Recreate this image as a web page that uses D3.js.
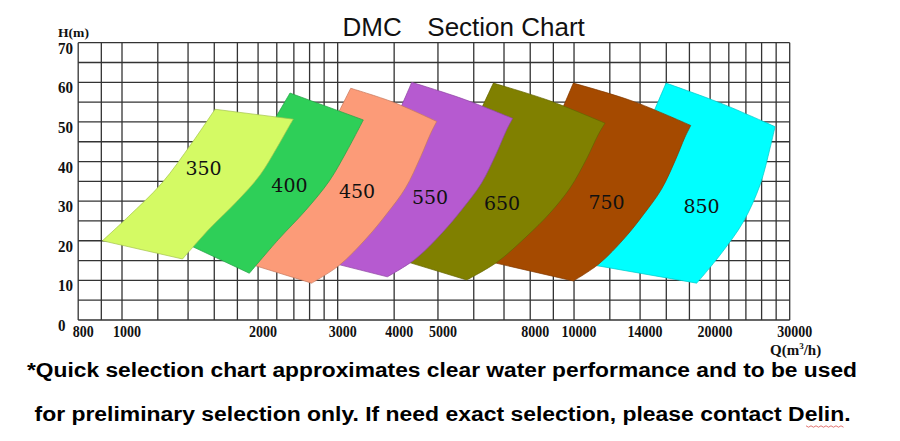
<!DOCTYPE html>
<html>
<head>
<meta charset="utf-8">
<script src="https://cdn.jsdelivr.net/npm/d3@7/dist/d3.min.js"></script>
<style>
  html, body { margin: 0; padding: 0; background: #fff; }
  svg { display: block; }
</style>
</head>
<body>
<svg id="chart" width="900" height="441"></svg>
<script>
// ---------------- DATA ----------------
const categories = ["350", "400", "450", "550", "650", "750", "850"];

// Each outline: [left edge (bottom -> top), top edge (left -> right), right edge (top -> bottom)]
// points are [Q (m3/h), H (m)]; the bottom edge closes from the last right point to the first left point
const outline350 = [
  [[905, 20.0], [1033, 26.1], [1224, 34.5], [1426, 44.6], [1606, 53.2]],
  [[1606, 53.2], [2393, 50.7]],
  [[2393, 50.7], [2353, 49.3], [2199, 43.4], [2020, 36.6], [1794, 29.9], [1566, 23.2], [1361, 15.4]]
];
const outline400 = [
  [[1344, 20.0], [1529, 26.7], [1806, 36.2], [2095, 47.6], [2353, 57.3]],
  [[2353, 57.3], [3419, 50.5]],
  [[3419, 50.5], [3362, 48.9], [3135, 42.4], [2875, 35.1], [2549, 27.7], [2217, 20.3], [1913, 11.8]]
];
const outline450 = [
  [[1824, 14.9], [2077, 22.8], [2455, 34.0], [2853, 47.2], [3206, 58.5]],
  [[3206, 58.5], [3977, 55.0], [4969, 50.1]],
  [[4969, 50.1], [4813, 47.0], [4574, 41.1], [4237, 33.3], [3852, 26.8], [3478, 20.7], [3024, 13.8], [2628, 9.3]]
];
const outline550 = [
  [[2673, 15.5], [2993, 23.5], [3466, 34.9], [3951, 48.5], [4375, 60.0]],
  [[4375, 60.0], [5652, 55.9], [7317, 50.9]],
  [[7317, 50.9], [7087, 47.9], [6735, 42.1], [6238, 34.5], [5668, 28.1], [5117, 22.1], [4446, 15.3], [3863, 10.9]]
];
const outline650 = [
  [[3917, 16.0], [4422, 23.9], [5168, 35.1], [5945, 48.4], [6630, 59.8]],
  [[6630, 59.8], [8804, 55.4], [11711, 49.7]],
  [[11711, 49.7], [11301, 46.7], [10685, 40.9], [9798, 33.3], [8849, 27.0], [7871, 21.2], [6756, 14.6], [5789, 10.1]]
];
const outline750 = [
  [[6132, 15.4], [6856, 23.4], [7919, 34.8], [9013, 48.3], [9964, 59.8]],
  [[9964, 59.8], [13437, 55.3], [18122, 49.1]],
  [[18122, 49.1], [17585, 46.1], [16763, 40.4], [15609, 33.0], [14263, 26.7], [12966, 20.8], [11365, 14.2], [9964, 9.85]]
];
const outline850 = [
  [[9798, 14.9], [10966, 23.0], [12680, 34.5], [14438, 48.2], [15979, 59.8]],
  [[15979, 59.8], [21040, 54.8], [27846, 48.8]],
  [[27846, 48.8], [27146, 43.4], [25797, 34.1], [23693, 24.8], [21040, 16.4], [18684, 9.3]]
];
const outlines = [outline350, outline400, outline450, outline550, outline650, outline750, outline850];

// label anchor of each section, [Q, H]
const labelAnchors = [[1515, 38.3], [2347, 34.1], [3311, 32.6], [4802, 31.1], [6930, 29.5], [11801, 29.8], [19146, 28.9]];

const xGridValues = [800, 900, 1000, 1200, 1400, 1600, 1800, 2000, 2200, 2400, 2600, 2800, 3000,
  4000, 5000, 6000, 7000, 8000, 9000, 10000, 12000, 14000, 16000, 18000, 20000,
  22000, 24000, 26000, 28000, 30000];
const xTickLabels = [800, 1000, 2000, 3000, 4000, 5000, 8000, 10000, 14000, 20000, 30000];
const yGridValues = [0, 5, 10, 15, 20, 25, 30, 35, 40, 45, 50, 55, 60, 65, 70];
const yTickLabels = [0, 10, 20, 30, 40, 50, 60, 70];

const colors = ["#d4fa64", "#2ecf58", "#fc9b78", "#b65ad0", "#808000", "#a54a00", "#00ffff"];

const titleLeft = "DMC";
const titleRight = "Section Chart";
const footnote1 = "*Quick selection chart approximates clear water performance and to be used";
const footnote2 = "for preliminary selection only. If need exact selection, please contact Delin.";

// ---------------- CHART ----------------
const svg = d3.select("#chart");
svg.append("rect").attr("width", 900).attr("height", 441).attr("fill", "#fff");

const x = d3.scaleLog().domain([800, 30000]).range([78.2, 789.7]);
const y = d3.scaleLinear().domain([0, 70]).range([320, 42.7]);

// grid
const grid = svg.append("g").attr("stroke", "#333").attr("stroke-width", 1.3);
grid.selectAll("line.v").data(xGridValues).join("line")
  .attr("x1", d => x(d)).attr("x2", d => x(d))
  .attr("y1", y(0)).attr("y2", y(70));
grid.selectAll("line.h").data(yGridValues).join("line")
  .attr("x1", x(800)).attr("x2", x(30000))
  .attr("y1", d => y(d)).attr("y2", d => y(d));

// sections (earlier sections drawn on top)
const edgeLine = d3.line().x(d => x(d[0])).y(d => y(d[1])).curve(d3.curveCatmullRom.alpha(0.5));
function outlinePath(o) {
  const parts = o.map((edge, i) => {
    const s = edgeLine(edge);
    return i === 0 ? s : s.replace(/^M/, "L");
  });
  return parts.join("") + "Z";
}
const order = d3.range(categories.length).reverse();
svg.append("g").selectAll("path").data(order).join("path")
  .attr("d", i => outlinePath(outlines[i]))
  .attr("fill", i => colors[i])
  .attr("stroke", i => d3.color(colors[i]).darker(0.7))
  .attr("stroke-width", 0.7)
  .attr("stroke-linejoin", "round");

// section labels
svg.append("g").selectAll("text").data(categories).join("text")
  .attr("x", (d, i) => x(labelAnchors[i][0]))
  .attr("y", (d, i) => y(labelAnchors[i][1]))
  .attr("text-anchor", "middle")
  .attr("dominant-baseline", "central")
  .attr("font-family", "'DejaVu Serif', serif")
  .attr("font-size", 19)
  .attr("fill", "#111")
  .text(d => d);

// x tick labels
const tickFont = "'Liberation Serif', 'Times New Roman', serif";
svg.append("g").selectAll("text").data(xTickLabels).join("text")
  .attr("x", d => x(d) + 5)
  .attr("y", 337)
  .attr("text-anchor", "middle")
  .attr("font-family", tickFont)
  .attr("font-size", 17)
  .attr("font-weight", "bold")
  .attr("textLength", d => String(d).length * 7)
  .attr("lengthAdjust", "spacingAndGlyphs")
  .attr("fill", "#111")
  .text(d => d);

// y tick labels
svg.append("g").selectAll("text").data(yTickLabels).join("text")
  .attr("x", 58)
  .attr("y", d => y(d) + 11)
  .attr("text-anchor", "start")
  .attr("font-family", tickFont)
  .attr("font-size", 17)
  .attr("font-weight", "bold")
  .attr("textLength", d => String(d).length * 7.5)
  .attr("lengthAdjust", "spacingAndGlyphs")
  .attr("fill", "#111")
  .text(d => d);

// axis titles
svg.append("text")
  .attr("x", 58).attr("y", 37)
  .attr("font-family", tickFont).attr("font-size", 13.5).attr("font-weight", "bold")
  .attr("textLength", 31).attr("lengthAdjust", "spacingAndGlyphs")
  .attr("fill", "#111")
  .text("H(m)");

const qt = svg.append("text")
  .attr("x", 770).attr("y", 355)
  .attr("font-family", tickFont).attr("font-size", 15).attr("font-weight", "bold")
  .attr("fill", "#111");
qt.append("tspan").text("Q(m");
qt.append("tspan").attr("font-size", 9).attr("dy", -6).text("3");
qt.append("tspan").attr("dy", 6).text("/h)");

// title
const title = svg.append("text")
  .attr("y", 35.5)
  .attr("font-family", "'Liberation Sans', Arial, sans-serif")
  .attr("font-size", 26)
  .attr("fill", "#111");
title.append("tspan").attr("x", 342.5).text(titleLeft);
title.append("tspan").attr("x", 427.3).text(titleRight);

// footnote
const footFont = "'Liberation Sans', Arial, sans-serif";
svg.append("text")
  .attr("x", 27).attr("y", 377)
  .attr("font-family", footFont).attr("font-size", 19.5).attr("font-weight", "bold")
  .attr("textLength", 830).attr("lengthAdjust", "spacingAndGlyphs")
  .attr("fill", "#000")
  .text(footnote1);
svg.append("text")
  .attr("x", 34.5).attr("y", 421)
  .attr("font-family", footFont).attr("font-size", 19.5).attr("font-weight", "bold")
  .attr("textLength", 816).attr("lengthAdjust", "spacingAndGlyphs")
  .attr("fill", "#000")
  .text(footnote2);

// spell-check style squiggle under "Delin"
const sq = d3.range(0, 16).map(i => [806 + i * 2.5, 426 + (i % 2 ? 1.2 : -0.2)]);
svg.append("path")
  .attr("d", d3.line()(sq))
  .attr("fill", "none")
  .attr("stroke", "#d9534f")
  .attr("stroke-width", 0.8);
</script>
</body>
</html>
